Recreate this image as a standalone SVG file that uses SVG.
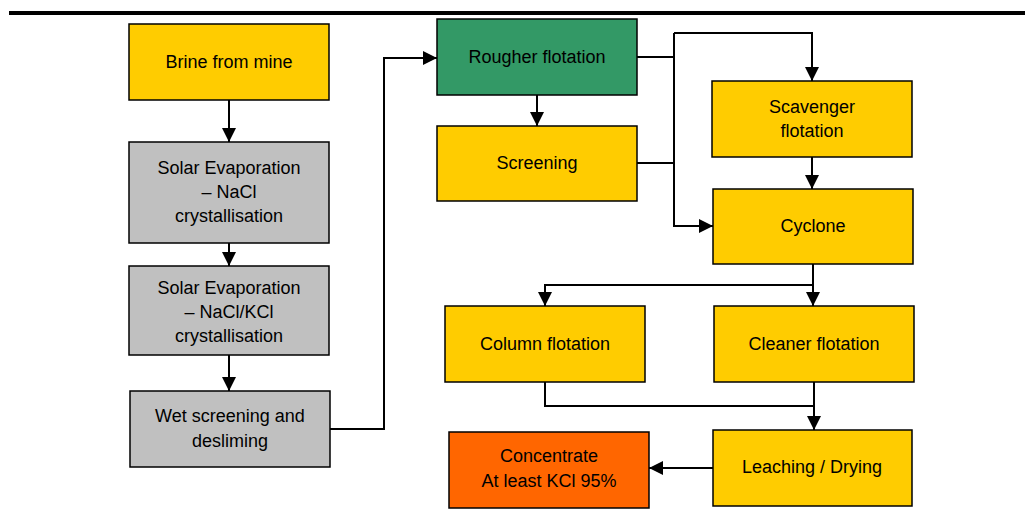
<svg xmlns="http://www.w3.org/2000/svg" width="1025" height="515" viewBox="0 0 1025 515">
<defs>
<marker id="ah" markerWidth="14" markerHeight="14" viewBox="0 0 14 14" refX="14" refY="7" orient="auto" markerUnits="userSpaceOnUse">
<path d="M0,0 L14,7 L0,14 Z" fill="#000"/>
</marker>
<style>
.box{stroke:#000;stroke-width:1.5}
.y{fill:#FFCC00}.g{fill:#C0C0C0}.gr{fill:#339966}.o{fill:#FF6600}
text{font-family:"Liberation Sans",Arial,sans-serif;font-size:18px;fill:#000;text-anchor:middle}
.c{fill:none;stroke:#000;stroke-width:2}
.a{marker-end:url(#ah)}
</style>
</defs>
<rect x="9" y="11" width="1016" height="4" fill="#000"/>
<g id="brine"><rect class="box y" x="129" y="24" width="200" height="76"/><text x="229" y="68">Brine from mine</text></g>
<g id="solar1"><rect class="box g" x="129" y="142" width="200" height="101"/><text x="229" y="174">Solar Evaporation</text><text x="229" y="198">– NaCl</text><text x="229" y="222">crystallisation</text></g>
<g id="solar2"><rect class="box g" x="129" y="266" width="200" height="89"/><text x="229" y="294">Solar Evaporation</text><text x="229" y="318">– NaCl/KCl</text><text x="229" y="342">crystallisation</text></g>
<g id="wet"><rect class="box g" x="130" y="391" width="200" height="76"/><text x="230" y="422">Wet screening and</text><text x="230" y="447">desliming</text></g>
<g id="rougher"><rect class="box gr" x="437" y="19" width="200" height="76"/><text x="537" y="63">Rougher flotation</text></g>
<g id="screening"><rect class="box y" x="437" y="126" width="200" height="75"/><text x="537" y="169">Screening</text></g>
<g id="scavenger"><rect class="box y" x="712" y="81" width="200" height="76"/><text x="812" y="113">Scavenger</text><text x="812" y="137">flotation</text></g>
<g id="cyclone"><rect class="box y" x="713" y="189" width="200" height="75"/><text x="813" y="232">Cyclone</text></g>
<g id="column"><rect class="box y" x="445" y="306" width="200" height="76"/><text x="545" y="350">Column flotation</text></g>
<g id="cleaner"><rect class="box y" x="714" y="306" width="200" height="76"/><text x="814" y="350">Cleaner flotation</text></g>
<g id="leaching"><rect class="box y" x="713" y="430" width="199" height="76"/><text x="812" y="473">Leaching / Drying</text></g>
<g id="concentrate"><rect class="box o" x="449" y="432" width="200" height="76"/><text x="549" y="462">Concentrate</text><text x="549" y="487">At least KCl 95%</text></g>
<g id="connectors">
<path class="c a" d="M229,100 V142"/>
<path class="c a" d="M229,243 V266"/>
<path class="c a" d="M229,355 V391"/>
<path class="c a" d="M330,429 H384 V58 H437"/>
<path class="c a" d="M537,95 V126"/>
<path class="c" d="M637,57 H674"/>
<path class="c" d="M637,163 H674"/>
<path class="c a" d="M674,33 V226 H713"/>
<path class="c a" d="M674,33 H812 V81"/>
<path class="c a" d="M812,157 V189"/>
<path class="c a" d="M813,264 V306"/>
<path class="c a" d="M813,285 H545 V306"/>
<path class="c" d="M545,382 V406 H814"/>
<path class="c a" d="M814,382 V430"/>
<path class="c a" d="M713,468 H649"/>
</g>
</svg>
